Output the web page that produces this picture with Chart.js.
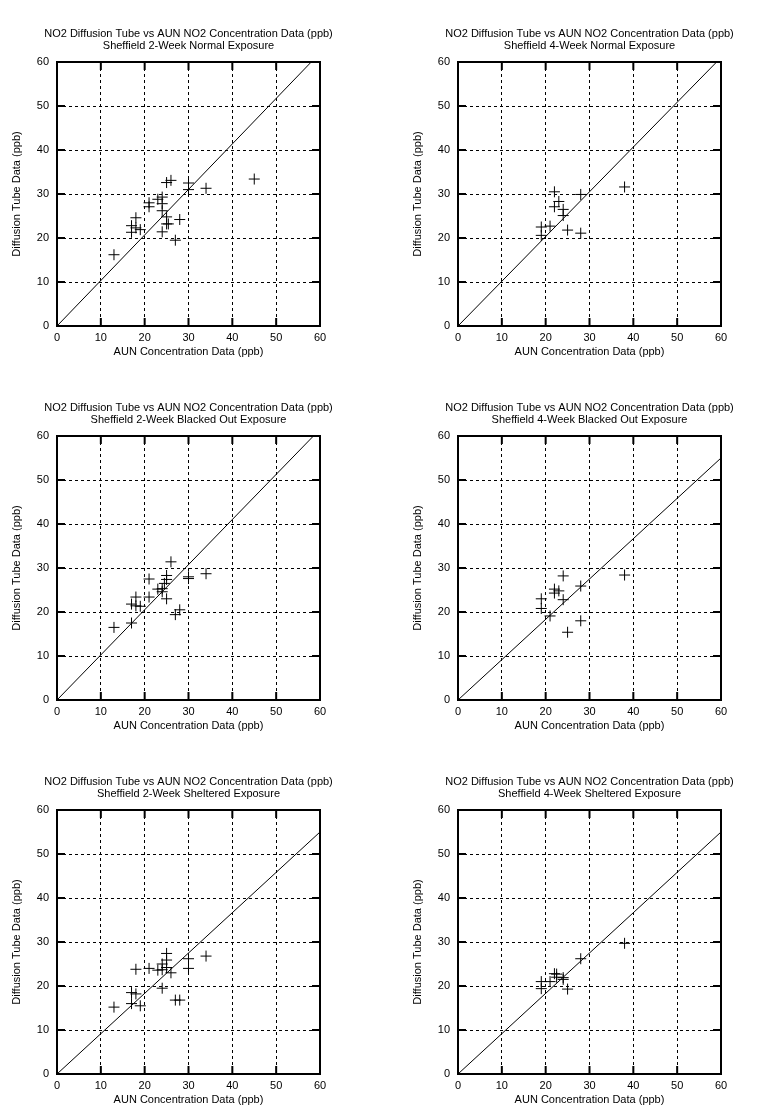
<!DOCTYPE html>
<html>
<head>
<meta charset="utf-8">
<script src="https://cdn.jsdelivr.net/npm/chart.js@4.4.1/dist/chart.umd.min.js"></script>
<style>
body { margin:0; background:#fff; width:759px; height:1119px; position:relative; overflow:hidden; }
canvas { position:absolute; }
</style>
</head>
<body>
<canvas id="c1" width="377" height="374" style="left:0;top:0"></canvas>
<canvas id="c2" width="377" height="374" style="left:401px;top:0"></canvas>
<canvas id="c3" width="377" height="374" style="left:0;top:374px"></canvas>
<canvas id="c4" width="377" height="374" style="left:401px;top:374px"></canvas>
<canvas id="c5" width="377" height="374" style="left:0;top:748px"></canvas>
<canvas id="c6" width="377" height="374" style="left:401px;top:748px"></canvas>
<script>
// titulos
const mainTitle = 'NO2 Diffusion Tube vs AUN NO2 Concentration Data (ppb)';
const subTitles = [
    'Sheffield 2-Week Normal Exposure',
    'Sheffield 4-Week Normal Exposure',
    'Sheffield 2-Week Blacked Out Exposure',
    'Sheffield 4-Week Blacked Out Exposure',
    'Sheffield 2-Week Sheltered Exposure',
    'Sheffield 4-Week Sheltered Exposure'
];
const xTitle = 'AUN Concentration Data (ppb)';
const yTitle = 'Diffusion Tube Data (ppb)';
const axisTicks = [0, 10, 20, 30, 40, 50, 60];

// 2-week normal
const norm2X = [13, 17, 17, 18, 18, 19, 21, 21, 23, 24, 24, 24, 24, 25, 25, 25.4, 25, 26, 30, 30, 34, 45, 28, 27];
const norm2Y = [16.2, 22.8, 21.3, 24.6, 22.3, 21.9, 28.0, 27.1, 28.8, 29.3, 27.8, 26.2, 21.4, 24.8, 23.2, 23.2, 32.6, 33.1, 32.5, 31.0, 31.3, 33.4, 24.2, 19.5];
// 4-week normal
const norm4X = [22, 23, 22, 24, 24, 19, 19, 21, 25, 28, 28, 38];
const norm4Y = [30.5, 28.3, 27.1, 26.5, 25.1, 22.5, 20.6, 22.7, 21.8, 21.1, 29.9, 31.6];
// 2-week blacked out
const black2X = [13, 17, 17, 18, 18, 19, 21, 21, 26, 25, 25, 23, 24, 24.5, 24, 25, 30, 30, 34, 27, 28];
const black2Y = [16.5, 17.5, 21.8, 23.4, 21.4, 21.3, 27.5, 23.4, 31.4, 28.3, 27.4, 25.2, 25.3, 26.5, 24.6, 23.0, 28.0, 27.6, 28.7, 19.4, 20.5];
// 4-week blacked out
const black4X = [24, 22, 23, 22, 24, 19, 19, 21, 28, 28, 25, 38];
const black4Y = [28.2, 25.2, 24.8, 24.3, 22.8, 23.0, 20.8, 19.1, 25.9, 18.0, 15.4, 28.4];
// 2-week sheltered
const shel2X = [13, 17, 18, 17, 19, 18, 21, 23, 24, 24, 25, 25, 25, 26, 24, 30, 30, 34, 27, 28];
const shel2Y = [15.2, 18.5, 18.2, 16.0, 15.5, 23.8, 24.0, 23.6, 25.0, 23.7, 27.4, 25.9, 24.2, 23.0, 19.5, 26.2, 24.0, 26.8, 16.8, 16.8];
// 4-week sheltered
const shel4X = [38, 28, 22, 22.5, 22.5, 24, 24, 19, 19, 21, 25];
const shel4Y = [29.7, 26.2, 22.8, 22.7, 22.0, 21.9, 21.5, 21.0, 19.4, 21.0, 19.3];

// lineas de ajuste (extremos)
const fit1X = [0, 58], fit1Y = [0, 60];
const fit2X = [0, 59], fit2Y = [0, 60];
const fit3X = [0, 58.5], fit3Y = [0, 60];
const fit4X = [0, 60], fit4Y = [0, 55];
const fit5X = [0, 60], fit5Y = [0, 55];
const fit6X = [0, 60], fit6Y = [0, 55];

Chart.defaults.font.family = '"Liberation Sans", Arial, sans-serif';
Chart.defaults.font.size = 10;
Chart.defaults.color = '#000';
Chart.defaults.animation = false;

function toPoints(xs, ys) {
    return xs.map((x, i) => ({ x: x, y: ys[i] }));
}

// marco grueso y marcas de escala hacia dentro
const framePlugin = {
    id: 'frame',
    beforeDatasetsDraw(chart) {
        const { ctx, chartArea: a, scales } = chart;
        ctx.save();
        ctx.strokeStyle = '#000';
        ctx.lineWidth = 2;
        ctx.setLineDash([]);
        ctx.beginPath();
        scales.x.ticks.forEach(t => {
            const px = scales.x.getPixelForValue(t.value);
            ctx.moveTo(px, a.bottom); ctx.lineTo(px, a.bottom - 8);
            ctx.moveTo(px, a.top); ctx.lineTo(px, a.top + 8);
        });
        scales.y.ticks.forEach(t => {
            const py = scales.y.getPixelForValue(t.value);
            ctx.moveTo(a.left, py); ctx.lineTo(a.left + 8, py);
            ctx.moveTo(a.right, py); ctx.lineTo(a.right - 8, py);
        });
        ctx.stroke();
        ctx.strokeRect(a.left, a.top, a.right - a.left, a.bottom - a.top);
        ctx.restore();
    }
};

function makeScale(title, isX) {
    return {
        type: 'linear',
        min: 0,
        max: 60,
        afterBuildTicks: s => { s.ticks = axisTicks.map(v => ({ value: v })); },
        afterFit: s => { if (isX) s.height = 48; else s.width = 57; },
        grid: { color: '#000', lineWidth: 1, drawTicks: false },
        border: { display: false, dash: [3, 3] },
        ticks: { padding: isX ? 5 : 8, font: { size: 11 } },
        title: {
            display: true,
            text: title,
            font: { size: 11 },
            padding: isX ? { top: 0, bottom: 15 } : { top: 10, bottom: 0 }
        }
    };
}

function makeChart(id, sub, xs, ys, fx, fy) {
    const ctx = document.getElementById(id).getContext('2d');
    return new Chart(ctx, {
        type: 'scatter',
        data: {
            datasets: [{
                data: toPoints(xs, ys),
                pointStyle: 'cross',
                pointRadius: 5.5,
                borderColor: '#000',
                borderWidth: 1,
                showLine: false
            }, {
                data: toPoints(fx, fy),
                showLine: true,
                borderColor: '#000',
                borderWidth: 1,
                pointRadius: 0
            }]
        },
        options: {
            responsive: false,
            layout: { padding: 0 },
            plugins: {
                legend: { display: false },
                tooltip: { enabled: false },
                title: {
                    display: true,
                    text: mainTitle,
                    font: { size: 11, weight: 'normal', lineHeight: 1.1 },
                    padding: { top: 28, bottom: 0 }
                },
                subtitle: {
                    display: true,
                    text: sub,
                    font: { size: 11, weight: 'normal', lineHeight: 1.1 },
                    padding: { top: 0, bottom: 9.8 }
                }
            },
            scales: {
                x: makeScale(xTitle, true),
                y: makeScale(yTitle, false),
                // espacio vacio a la derecha para centrar los titulos
                yr: {
                    type: 'linear',
                    position: 'right',
                    min: 0,
                    max: 60,
                    grid: { display: false, drawTicks: false },
                    border: { display: false },
                    ticks: { display: false },
                    afterFit: s => { s.width = 57; }
                }
            }
        },
        plugins: [framePlugin]
    });
}

makeChart('c1', subTitles[0], norm2X, norm2Y, fit1X, fit1Y);
makeChart('c2', subTitles[1], norm4X, norm4Y, fit2X, fit2Y);
makeChart('c3', subTitles[2], black2X, black2Y, fit3X, fit3Y);
makeChart('c4', subTitles[3], black4X, black4Y, fit4X, fit4Y);
makeChart('c5', subTitles[4], shel2X, shel2Y, fit5X, fit5Y);
makeChart('c6', subTitles[5], shel4X, shel4Y, fit6X, fit6Y);
</script>
</body>
</html>
